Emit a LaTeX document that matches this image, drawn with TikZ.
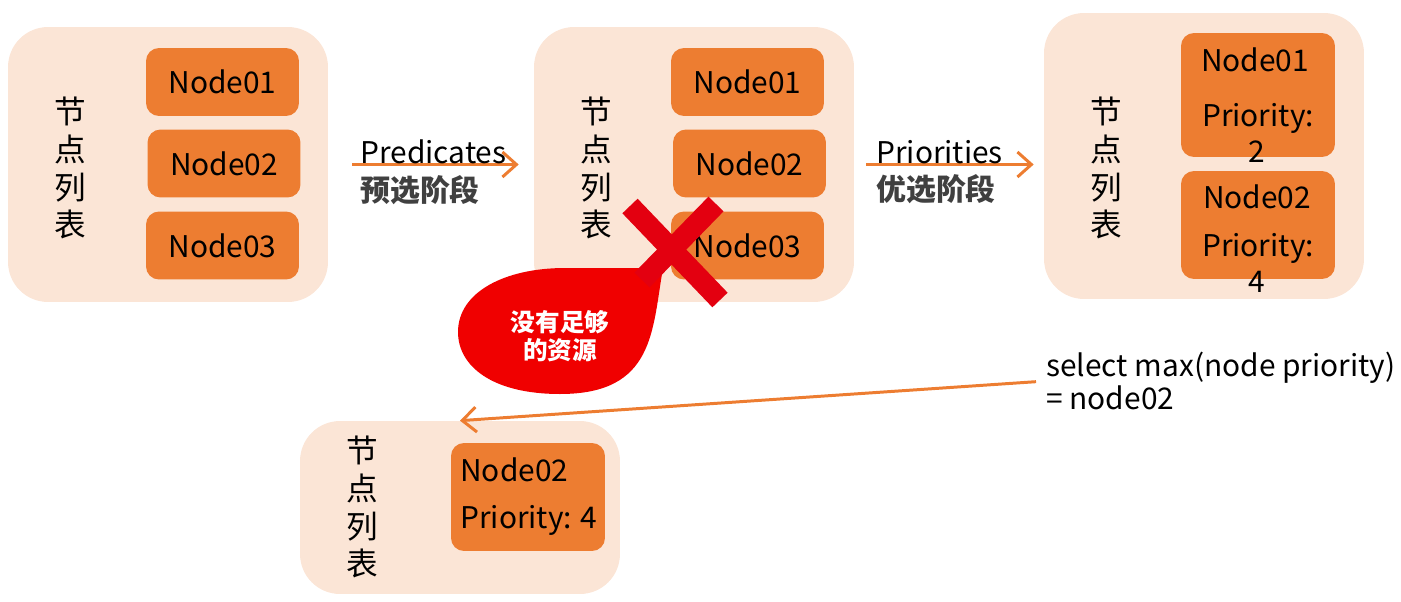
\documentclass[tikz,border=0pt]{standalone}
\usepackage{fontspec}
\setmainfont{Noto Sans CJK SC}
\usetikzlibrary{arrows.meta}
\definecolor{panelfill}{HTML}{FBE5D6}
\definecolor{boxfill}{HTML}{ED7D31}
\definecolor{flowline}{HTML}{ED7D31}
\definecolor{alertred}{HTML}{F00000}
\definecolor{crossred}{HTML}{E30010}
\definecolor{stagegray}{HTML}{404040}
\tikzstyle{panel}=[
        fill = panelfill,
        rounded corners = 0.8cm,
        inner sep = 0pt,
        minimum width = 6.4cm,
        minimum height = 5.5cm
    ]
\tikzstyle{nodebox}=[
        fill = boxfill,
        rounded corners = 0.26cm,
        inner sep = 0pt,
        minimum width = 3.06cm,
        minimum height = 1.36cm,
        font = \fontsize{17}{20}\selectfont
    ]
\tikzstyle{vlabel}=[
        align = center,
        inner sep = 0pt,
        font = \fontsize{18}{21.6}\selectfont
    ]
\tikzstyle{flow}=[
        draw = flowline,
        line width = 1.7pt,
        -{Straight Barb[length=2.8mm, width=5mm, line width=1.7pt]}
    ]
\tikzstyle{stage}=[
        anchor = west,
        inner sep = 0pt,
        text = stagegray,
        font = \fontsize{17}{20}\selectfont\bfseries
    ]
\tikzstyle{plain}=[
        inner sep = 0pt,
        font = \fontsize{17}{20}\selectfont
    ]

\begin{document}
\begin{tikzpicture}[x=0.02cm, y=-0.02cm]
        \useasboundingbox (0,0) rectangle (1401,602);

        \node[panel] (p1) at (168,164.5) {};
        \node[panel] (p2) at (694,164.5) {};
        \node[panel, minimum height = 5.72cm] (p3) at (1204,156) {};
        \node[panel, minimum height = 3.46cm] (p4) at (460,507.5) {};

        \node[vlabel] (l1) at (70,168) {节\\点\\列\\表};
        \node[vlabel] (l2) at (596,168) {节\\点\\列\\表};
        \node[vlabel] (l3) at (1106,168) {节\\点\\列\\表};
        \node[vlabel] (l4) at (362,507) {节\\点\\列\\表};

        \node[nodebox] (a1) at (222.5,82) {Node01};
        \node[nodebox] (a2) at (224,163.5) {Node02};
        \node[nodebox] (a3) at (222.5,245.5) {Node03};

        \node[nodebox] (b1) at (747.5,82) {Node01};
        \node[nodebox] (b2) at (749.5,163.5) {Node02};
        \node[nodebox] (b3) at (747.5,245.5) {Node03};

        \node[nodebox, minimum width = 3.08cm, minimum height = 2.48cm] (c1) at (1258,95) {};
        \node[plain] (c1name) at (1255,60) {Node01};
        \node[plain] (c1prio) at (1258,118) {Priority:};
        \node[plain] (c1val) at (1257,152) {2};
        \node[nodebox, minimum width = 3.08cm, minimum height = 2.16cm] (c2) at (1258,225) {};
        \node[plain] (c2name) at (1257,197) {Node02};
        \node[plain] (c2prio) at (1258,248) {Priority:};
        \node[plain] (c2val) at (1257,282) {4};

        \node[nodebox, minimum width = 3.08cm, minimum height = 2.16cm] (d1) at (528,497) {};
        \node[plain, anchor = west] (d1name) at (460,470) {Node02};
        \node[plain, anchor = west] (d1prio) at (460,520) {Priority: 4};

        \draw[flow, shorten <= 0.48cm, shorten >= 0.3cm] (p1) -- (p2);
        \node[plain, anchor = west] (pred) at (360,152) {Predicates};
        \node[stage] (predcn) at (360,190) {预选阶段};

        \draw[flow, shorten <= 0.24cm, shorten >= 0.2cm] (p2.east) -- (p2.east -| p3.west);
        \node[plain, anchor = west] (prio) at (876,152) {Priorities};
        \node[stage] (priocn) at (876,189) {优选阶段};

        \node[plain, anchor = west, align = left, font = \fontsize{17}{19.3}\selectfont] (sel) at (1046,381) {select max(node priority)\\= node02};
        \draw[flow, shorten <= 0.2cm] (sel.west) -- (p4.north);

        \fill[alertred] (663,268) .. controls (652,330) and (655,394) .. (560,394)
            .. controls (492,394) and (458,366) .. (458,332)
            .. controls (458,292) and (505,268) .. (565,268) -- cycle;
        \node[align = center, inner sep = 0pt, text = white, font = \fontsize{14}{16}\selectfont\bfseries] (nores) at (560,336) {没有足够\\的资源};

        \draw[crossred, line width = 12pt] (630,206) -- (720,300);
        \draw[crossred, line width = 12pt] (716,204) -- (642,280);

    \end{tikzpicture}
\end{document}
